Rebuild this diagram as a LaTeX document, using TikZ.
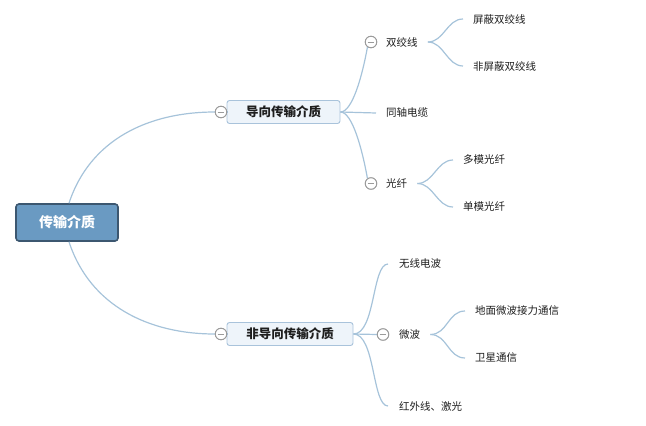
\documentclass[tikz,border=0pt]{standalone}
\usepackage{fontspec}
\setmainfont{Noto Sans CJK SC}
\usetikzlibrary{calc}
\definecolor{linecol}{HTML}{A6C3DA}
\definecolor{boxfill}{HTML}{EEF4FA}
\definecolor{boxdraw}{HTML}{A9C3DB}
\definecolor{rootfill}{HTML}{6A9AC2}
\definecolor{rootdraw}{HTML}{3C5770}
\definecolor{collcol}{HTML}{9B9B9B}
\definecolor{txt}{HTML}{1E1E1E}
\begin{document}
\begin{tikzpicture}[x=1pt,y=-1pt,
  rootbox/.style={draw=rootdraw,fill=rootfill,line width=1.6pt,rounded corners=3pt,
    minimum width=102pt,minimum height=37pt,text=white,font=\fontsize{14}{16}\selectfont\bfseries,inner sep=0pt},
  midbox/.style={draw=boxdraw,fill=boxfill,line width=0.9pt,rounded corners=2.5pt,
    minimum height=23pt,text=txt,font=\fontsize{12.5}{14}\selectfont\bfseries,inner sep=0pt},
  leaf/.style={anchor=west,inner xsep=2pt,inner ysep=1pt,text=txt,font=\fontsize{10.5}{12}\selectfont},
  coll/.style={circle,draw=collcol,fill=white,line width=0.9pt,minimum size=11.5pt,inner sep=0pt,
    path picture={\draw[collcol,line width=1pt]([xshift=-3.3pt]path picture bounding box.center)--([xshift=3.3pt]path picture bounding box.center);}},
  conn/.style={draw=linecol,line width=1.2pt}
]
\useasboundingbox (0,0) rectangle (646,426);
% nodes
\node[rootbox] (root) at (67,222.5) {传输介质};
\node[midbox,minimum width=113pt] (g) at (283.5,112) {导向传输介质};
\node[midbox,minimum width=126pt] (ng) at (290,334) {非导向传输介质};
\node[coll] (cg) at (221,112) {};
\node[coll] (cng) at (221,334) {};
% guided children
\node[coll] (c1) at (371,42) {};
\node[leaf] (sj) at (384,42) {双绞线};
\node[leaf] (tz) at (384,113) {同轴电缆};
\node[coll] (c3) at (371,183.5) {};
\node[leaf] (gx) at (384,183.5) {光纤};
\node[leaf] (pb) at (471,19) {屏蔽双绞线};
\node[leaf] (fpb) at (471,66) {非屏蔽双绞线};
\node[leaf] (dm) at (461,160) {多模光纤};
\node[leaf] (sm) at (461,207) {单模光纤};
% non-guided children
\node[leaf] (wx) at (397,264) {无线电波};
\node[coll] (c5) at (383,334.5) {};
\node[leaf] (wb) at (397,334.5) {微波};
\node[leaf] (hw) at (397,406) {红外线、激光};
\node[leaf] (dmw) at (473,311) {地面微波接力通信};
\node[leaf] (wxt) at (473,358) {卫星通信};
% connectors
\draw[conn] ([xshift=2pt]root.north) .. controls +(21,-64) and +(-66,0) .. (cg.west);
\draw[conn] ([xshift=2pt]root.south) .. controls +(21,64) and +(-66,0) .. (cng.west);
\draw[conn] (cg.east) -- (g.west);
\draw[conn] (cng.east) -- (ng.west);
% guided
\draw[conn] (g.east) .. controls +(12,0) and +(-5,28) .. (c1.235);
\draw[conn] (g.east) -- ([xshift=-8pt]tz.west);
\draw[conn] (g.east) .. controls +(12,0) and +(-5,-28) .. (c3.125);
\draw[conn] ([xshift=8pt]sj.east) .. controls +(16,0) and +(-16,0) .. ([xshift=-8pt]pb.west);
\draw[conn] ([xshift=8pt]sj.east) .. controls +(16,0) and +(-16,0) .. ([xshift=-8pt]fpb.west);
\draw[conn] ([xshift=8pt]gx.east) .. controls +(16,0) and +(-16,0) .. ([xshift=-8pt]dm.west);
\draw[conn] ([xshift=8pt]gx.east) .. controls +(16,0) and +(-16,0) .. ([xshift=-8pt]sm.west);
% non-guided
\draw[conn] (ng.east) .. controls +(22,0) and +(-16,0) .. ([xshift=-9pt]wx.west);
\draw[conn] (ng.east) -- (c5.west);
\draw[conn] (ng.east) .. controls +(22,0) and +(-16,0) .. ([xshift=-9pt]hw.west);
\draw[conn] ([xshift=8pt]wb.east) .. controls +(17,0) and +(-17,0) .. ([xshift=-8pt]dmw.west);
\draw[conn] ([xshift=8pt]wb.east) .. controls +(17,0) and +(-17,0) .. ([xshift=-8pt]wxt.west);
% redraw circles on top
\node[coll] at (cg) {};
\node[coll] at (cng) {};
\node[coll] at (c1) {};
\node[coll] at (c3) {};
\node[coll] at (c5) {};
\end{tikzpicture}
\end{document}
